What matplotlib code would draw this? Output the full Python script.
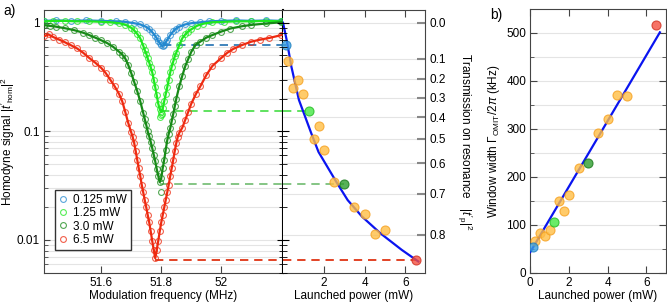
import numpy as np
import matplotlib
matplotlib.use('Agg')
import matplotlib.pyplot as plt
from matplotlib.ticker import LogLocator, NullFormatter, FixedLocator, FixedFormatter

plt.rcParams['font.family'] = ['Liberation Sans', 'DejaVu Sans']
plt.rcParams['mathtext.fontset'] = 'custom'
plt.rcParams['mathtext.rm'] = 'Liberation Sans'
plt.rcParams['mathtext.it'] = 'Liberation Sans:italic'
plt.rcParams['font.size'] = 8.5

# --- panel a, left: homodyne spectra (MHz, |t'_hom|^2) ---
f_blue = [51.41, 51.45, 51.50, 51.55, 51.60, 51.65, 51.68, 51.71, 51.73, 51.75, 51.76, 51.77,
          51.78, 51.785, 51.79, 51.795, 51.80, 51.805, 51.81, 51.815, 51.82, 51.83, 51.84,
          51.85, 51.86, 51.88, 51.90, 51.93, 51.96, 52.00, 52.05, 52.10, 52.15, 52.20]
h_blue = [1.04, 1.05, 1.04, 1.05, 1.04, 1.03, 1.02, 0.99, 0.965, 0.915, 0.875, 0.82,
          0.755, 0.72, 0.68, 0.65, 0.625, 0.61, 0.63, 0.66, 0.695, 0.77, 0.835,
          0.885, 0.92, 0.965, 0.99, 1.01, 1.03, 1.04, 1.05, 1.04, 1.05, 1.04]

f_lime = [51.41, 51.44, 51.48, 51.52, 51.56, 51.60, 51.63, 51.66, 51.68, 51.70, 51.71, 51.72,
          51.73, 51.74, 51.745, 51.75, 51.755, 51.76, 51.765, 51.77, 51.775, 51.78, 51.785,
          51.79, 51.795, 51.80, 51.805, 51.81, 51.815, 51.82, 51.825, 51.83, 51.835, 51.84,
          51.845, 51.85, 51.86, 51.87, 51.88, 51.89, 51.90, 51.92, 51.94, 51.97, 52.01,
          52.05, 52.10, 52.15, 52.20]
h_lime = [1.03, 1.04, 1.04, 1.03, 1.03, 1.02, 1.01, 0.99, 0.96, 0.90, 0.85, 0.79,
          0.72, 0.615, 0.56, 0.52, 0.47, 0.43, 0.39, 0.35, 0.30, 0.255, 0.215,
          0.18, 0.16, 0.152, 0.163, 0.19, 0.22, 0.255, 0.30, 0.35, 0.395, 0.44,
          0.49, 0.53, 0.62, 0.72, 0.78, 0.83, 0.87, 0.94, 0.98, 1.01, 1.02,
          1.03, 1.03, 1.04, 1.03]
f_lime_extra = [51.797, 51.80, 51.803]
h_lime_extra = [0.137, 0.14, 0.145]

f_dgreen = [51.41, 51.43, 51.45, 51.48, 51.51, 51.54, 51.56, 51.58, 51.60, 51.62, 51.64, 51.66,
            51.67, 51.68, 51.69, 51.70, 51.71, 51.72, 51.73, 51.74, 51.745, 51.75, 51.755,
            51.76, 51.765, 51.77, 51.775, 51.78, 51.785, 51.79, 51.795, 51.80, 51.805, 51.81,
            51.815, 51.82, 51.825, 51.83, 51.835, 51.84, 51.845, 51.85, 51.86, 51.87, 51.88,
            51.89, 51.90, 51.915, 51.93, 51.95, 51.97, 52.00, 52.03, 52.07, 52.10, 52.15, 52.20]
h_dgreen = [0.95, 0.935, 0.92, 0.89, 0.855, 0.81, 0.77, 0.73, 0.69, 0.65, 0.60, 0.54,
            0.51, 0.47, 0.41, 0.345, 0.285, 0.235, 0.19, 0.148, 0.13, 0.115, 0.10,
            0.09, 0.08, 0.07, 0.061, 0.053, 0.045, 0.039, 0.034, 0.037, 0.046, 0.055,
            0.068, 0.083, 0.095, 0.107, 0.125, 0.145, 0.17, 0.20, 0.26, 0.325, 0.40,
            0.465, 0.54, 0.63, 0.67, 0.73, 0.77, 0.83, 0.885, 0.93, 0.955, 0.985, 1.01]
f_dgreen_extra = [51.80]
h_dgreen_extra = [0.0278]

f_red = [51.41, 51.425, 51.44, 51.46, 51.48, 51.50, 51.52, 51.54, 51.56, 51.58, 51.60, 51.615,
         51.63, 51.645, 51.66, 51.67, 51.68, 51.69, 51.70, 51.705, 51.71, 51.715, 51.72,
         51.725, 51.73, 51.735, 51.74, 51.745, 51.75, 51.755, 51.76, 51.765, 51.77, 51.775,
         51.78, 51.785, 51.79, 51.795, 51.80, 51.805, 51.81, 51.815, 51.82, 51.825, 51.83,
         51.835, 51.84, 51.845, 51.85, 51.855, 51.86, 51.87, 51.88, 51.89, 51.90, 51.915,
         51.93, 51.95, 51.97, 52.00, 52.02, 52.04, 52.07, 52.10, 52.13, 52.16, 52.20]
h_red = [0.75, 0.78, 0.74, 0.70, 0.66, 0.62, 0.58, 0.53, 0.475, 0.43, 0.385, 0.345,
         0.30, 0.26, 0.22, 0.19, 0.152, 0.12, 0.098, 0.089, 0.078, 0.066, 0.055,
         0.046, 0.039, 0.0324, 0.0275, 0.0234, 0.020, 0.017, 0.0145, 0.012, 0.0098, 0.0081,
         0.0068, 0.0081, 0.0098, 0.012, 0.0145, 0.017, 0.020, 0.0234, 0.0275, 0.0324, 0.039,
         0.046, 0.055, 0.066, 0.078, 0.089, 0.097, 0.108, 0.128, 0.152, 0.18, 0.22,
         0.26, 0.33, 0.40, 0.475, 0.53, 0.575, 0.625, 0.67, 0.70, 0.725, 0.77]

labels = ['0.125 mW', '1.25 mW', '3.0 mW', '6.5 mW']

# --- panel a, right: transmission on resonance vs launched power ---
p_orange = [0.25, 0.5, 0.75, 1.0, 1.5, 1.75, 2.0, 2.5, 3.5, 4.0, 4.5, 5.0]
t_orange = [0.111, 0.249, 0.209, 0.280, 0.503, 0.442, 0.548, 0.663, 0.737, 0.755, 0.798, 0.790]
p_marked = [0.125, 1.25, 3.0, 6.5]
t_marked = [0.044, 0.369, 0.670, 0.845]
p_tfit = [0.0, 0.18, 0.41, 0.78, 1.385, 1.74, 2.65, 3.17, 3.87, 4.78, 5.82, 6.63]
t_tfit = [0.0, 0.028, 0.138, 0.312, 0.476, 0.556, 0.668, 0.718, 0.760, 0.797, 0.828, 0.847]
t_ticks = [0.0, 0.1, 0.2, 0.3, 0.4, 0.5, 0.6, 0.7, 0.8]

# --- panel b: window width vs launched power (kHz) ---
w_orange = [67, 83, 77, 89, 149, 129, 161, 218, 292, 320, 371, 369]
w_marked = [54, 106, 229, 516]
p_wfit = [0.0, 6.7]
w_wfit = [43, 501]

line_cols = ['#2389d0', '#1fe81f', '#178a17', '#ee2a10']
dash_cols = ['#1f6fb0', '#44dd44', '#70bb70', '#dd2200']
pt_face = ['#3aa0e0', '#44e844', '#2e9e2e', '#f45040']
pt_edge = ['#1f80c0', '#22bb22', '#1a7a1a', '#d03020']
or_face, or_edge = '#ffbe45', '#f5a020'


def to_hom(t):
    # transmission on resonance -> homodyne dip depth
    return (1 - np.sqrt(np.asarray(t, dtype=float))) ** 2


fig = plt.figure(figsize=(6.67, 3.05), dpi=100)
W, H = 667, 305
ax_l = fig.add_axes([44 / W, 1 - 272.7 / H, (283 - 44) / W, (272.7 - 10) / H])
ax_r = fig.add_axes([283 / W, 1 - 272.7 / H, (425 - 283) / W, (272.7 - 10) / H])
ax_d = ax_r.twinx()  # only carries the ticks that cross the divider
ax_b = fig.add_axes([530.3 / W, 1 - 272.7 / H, (665.7 - 530.3) / W, (272.7 - 9.3) / H])

ylo, yhi = 0.005, 1.31
fmin, fmax = 51.41, 52.205
pmax = 6.96

# left part of a
curves = [(f_blue, h_blue), (f_lime, h_lime), (f_dgreen, h_dgreen), (f_red, h_red)]
handles = []
for (f, h), c in zip(curves, line_cols):
    hd, = ax_l.plot(f, h, 'o', mfc='none', mec=c, ms=4.2, mew=0.8, alpha=0.75, zorder=3)
    ax_l.plot(f, h, '-', color=c, lw=1.6, zorder=4)
    handles.append(hd)
ax_l.plot(f_lime_extra, h_lime_extra, 'o', mfc='none', mec=line_cols[1], ms=4.2, mew=0.8, alpha=0.75)
ax_l.plot(f_dgreen_extra, h_dgreen_extra, 'o', mfc='none', mec=line_cols[2], ms=4.2, mew=0.8, alpha=0.75)

# dashed connectors from each dip to its point on the right
for (f, h), p, t, c in zip(curves, p_marked, t_marked, dash_cols):
    y = to_hom(t)
    f_dip = f[int(np.argmin(h))]
    ax_l.plot([f_dip, fmax], [y, y], ls=(0, (5, 3.5)), color=c, lw=1.2, zorder=2)
    ax_r.plot([0, p], [y, y], ls=(0, (5, 3.5)), color=c, lw=1.2, zorder=2)

ax_l.set_yscale('log')
ax_l.set_ylim(ylo, yhi)
ax_l.set_xlim(fmin, fmax)
ax_l.set_xticks([51.6, 51.8, 52.0])
ax_l.set_xticklabels(['51.6', '51.8', '52'])
ax_l.yaxis.set_major_locator(FixedLocator([0.01, 0.1, 1]))
ax_l.yaxis.set_major_formatter(FixedFormatter(['0.01', '0.1', '1']))
ax_l.yaxis.set_minor_locator(LogLocator(base=10, subs=np.arange(2, 10)))
ax_l.yaxis.set_minor_formatter(NullFormatter())
ax_l.grid(True, which='both', axis='y', color='#e4e4e4', lw=0.8, zorder=0)
ax_l.tick_params(axis='both', which='both', direction='in', top=True, right=False,
                 color='#444', labelsize=8.5, pad=3)
ax_l.tick_params(axis='y', which='major', length=4)
ax_l.tick_params(axis='y', which='minor', length=3)
ax_l.tick_params(axis='x', which='major', length=5)
for s in ['left', 'top', 'bottom']:
    ax_l.spines[s].set_color('#444')
ax_l.spines['right'].set_color('black')
ax_l.spines['right'].set_linewidth(1.5)
ax_l.set_xlabel('Modulation frequency (MHz)', labelpad=1)
ax_l.set_ylabel(r"Homodyne signal $|t'_{\mathrm{hom}}|^2$", labelpad=0)
ax_l.legend(handles, labels, loc='lower left', bbox_to_anchor=(0.046, 0.086),
            borderaxespad=0, fancybox=False, edgecolor='#333', framealpha=1,
            handlelength=0.7, handletextpad=0.5, borderpad=0.35, labelspacing=0.12,
            fontsize=8.5)

# right part of a
ax_r.plot(p_tfit, to_hom(t_tfit), '-', color='#0a14f0', lw=1.6, zorder=3)
ax_r.plot(p_orange, to_hom(t_orange), 'o', ms=6.5, mfc=or_face, mec=or_edge, mew=0.8,
          alpha=0.8, zorder=4, clip_on=False)
for p, t, fc, ec in zip(p_marked, t_marked, pt_face, pt_edge):
    ax_r.plot([p], [to_hom(t)], 'o', ms=6.5, mfc=fc, mec=ec, mew=0.8, alpha=0.8,
              zorder=5, clip_on=False)
ax_r.set_yscale('log')
ax_r.set_ylim(ylo, yhi)
ax_r.set_xlim(0, pmax)
ax_r.set_xticks([2, 4, 6])
ax_r.yaxis.set_major_locator(FixedLocator(to_hom(t_ticks)))
ax_r.yaxis.set_major_formatter(FixedFormatter(['%.1f' % t for t in t_ticks]))
ax_r.yaxis.set_minor_locator(FixedLocator([]))
ax_r.yaxis.tick_right()
ax_r.yaxis.set_label_position('right')
ax_r.grid(True, axis='y', color='#e4e4e4', lw=0.8, zorder=0)
ax_r.tick_params(axis='x', direction='in', top=True, length=5, color='#444', labelsize=8.5, pad=3)
ax_r.tick_params(axis='y', direction='in', length=6, width=1.5, color='#888', labelsize=8.5, pad=3)
ax_r.spines['left'].set_visible(False)
for s in ['right', 'top', 'bottom']:
    ax_r.spines[s].set_color('#444')
ax_r.set_xlabel('Launched power (mW)', labelpad=1)
ax_r.set_ylabel(r"Transmission on resonance   $|t'_{\mathrm{p}}|^2$", rotation=270,
                va='bottom', labelpad=7)

# ticks crossing the divider line
ax_d.set_yscale('log')
ax_d.set_ylim(ylo, yhi)
ax_d.yaxis.tick_left()
ax_d.yaxis.set_major_locator(FixedLocator([0.01, 0.1, 1]))
ax_d.yaxis.set_minor_locator(LogLocator(base=10, subs=np.arange(2, 10)))
ax_d.yaxis.set_major_formatter(NullFormatter())
ax_d.yaxis.set_minor_formatter(NullFormatter())
ax_d.tick_params(axis='y', which='major', direction='inout', length=9, color='black')
ax_d.tick_params(axis='y', which='minor', direction='inout', length=6, color='black')
for s in ax_d.spines.values():
    s.set_visible(False)

# panel b
ax_b.plot(p_wfit, w_wfit, '-', color='#0a14f0', lw=1.6, zorder=3)
ax_b.plot(p_orange, w_orange, 'o', ms=6.5, mfc=or_face, mec=or_edge, mew=0.8, alpha=0.8, zorder=4)
for p, w, fc, ec in zip(p_marked, w_marked, pt_face, pt_edge):
    ax_b.plot([p], [w], 'o', ms=6.5, mfc=fc, mec=ec, mew=0.8, alpha=0.8, zorder=5)
ax_b.set_xlim(0, 7.0)
ax_b.set_ylim(0, 549)
ax_b.set_xticks([0, 2, 4, 6])
ax_b.set_yticks([0, 100, 200, 300, 400, 500])
ax_b.set_yticks(np.arange(50, 550, 100), minor=True)
ax_b.grid(True, which='both', axis='y', color='#e4e4e4', lw=0.8, zorder=0)
ax_b.tick_params(axis='both', which='both', direction='in', top=True, right=True,
                 color='#444', labelsize=8.5, pad=3)
ax_b.tick_params(which='major', length=5)
ax_b.tick_params(which='minor', length=3)
for s in ax_b.spines.values():
    s.set_color('#444')
ax_b.set_xlabel('Launched power (mW)', labelpad=1)
ax_b.set_ylabel(r'Window width $\Gamma_{\mathrm{OMIT}}/2\pi$ (kHz)', labelpad=3)

fig.text(3 / W, 1 - 11 / H, 'a)', fontsize=10, va='center', ha='left')
fig.text(490 / W, 1 - 15 / H, 'b)', fontsize=10, va='center', ha='left')

fig.savefig('out.png', dpi=100)
